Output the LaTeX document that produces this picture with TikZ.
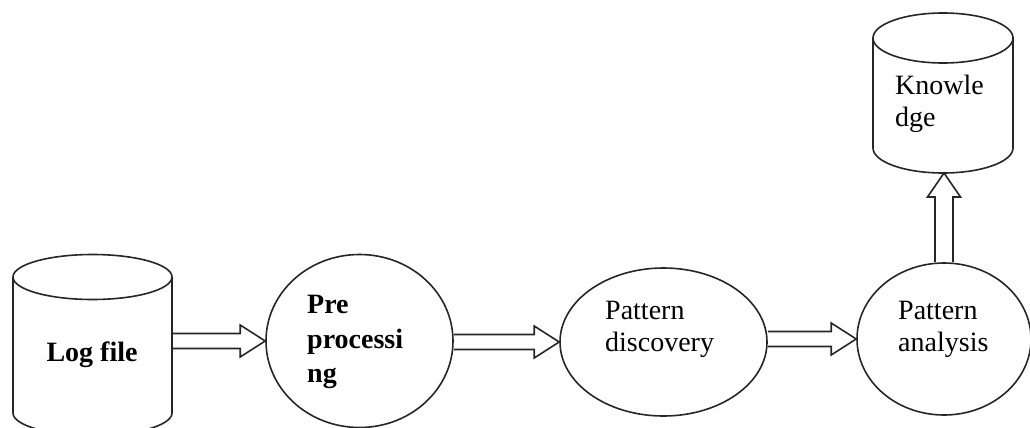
\documentclass[tikz,border=0pt]{standalone}
\usepackage{fontspec}
\setmainfont{Liberation Serif}
\usetikzlibrary{shapes.geometric,calc}
\tikzset{
  ln/.style={draw=black!85, line width=1.6pt},
  bub/.style={ln, ellipse, inner sep=0pt},
  lbl/.style={inner sep=0pt, align=left, anchor=west, font=\fontsize{28}{32}\selectfont},
  blk/.style={ln, line join=miter},
}
\newcommand\harr[2]{\draw[blk] let \p1=(#1), \p2=(#2) in
  (\x1,\y2+7.5pt) -- (\x2-25pt,\y2+7.5pt) -- (\x2-25pt,\y2+16pt) -- (\x2,\y2)
  -- (\x2-25pt,\y2-16pt) -- (\x2-25pt,\y2-7.5pt) -- (\x1,\y2-7.5pt);}
\newcommand\varr[2]{\draw[blk] let \p1=(#1), \p2=(#2) in
  (\x2-9pt,\y1) -- (\x2-9pt,\y2-24pt) -- (\x2-16.5pt,\y2-24pt) -- (\x2,\y2)
  -- (\x2+16.5pt,\y2-24pt) -- (\x2+9pt,\y2-24pt) -- (\x2+9pt,\y1);}
\begin{document}
\begin{tikzpicture}[x=1pt,y=-1pt]
\clip (0,0) rectangle (1030,428);
% Log file cylinder
\draw[ln] (13,277) -- (13,413) arc[start angle=180,end angle=360,x radius=79.5pt,y radius=22.5pt] -- (172,277);
\draw[ln] (92.5,277) ellipse [x radius=79.5pt, y radius=22.5pt];
\coordinate (logfile) at (172,344);
\node[lbl, anchor=center, font=\bfseries\fontsize{28}{32}\selectfont] (logtxt) at (92,355) {Log file};
% Pre processing
\node[bub, minimum width=187pt, minimum height=173pt] (pre) at (359.5,341) {};
\node[lbl, font=\bfseries\fontsize{28}{34.5}\selectfont] (pretxt) at (307,342) {Pre\\processi\\ng};
% Pattern discovery
\node[bub, minimum width=207pt, minimum height=148pt] (disc) at (663.5,342) {};
\node[lbl] (disctxt) at (605,329) {Pattern\\discovery};
% Pattern analysis
\node[bub, minimum width=174pt, minimum height=152pt] (ana) at (944,339) {};
\node[lbl] (anatxt) at (898,329) {Pattern\\analysis};
% Knowledge cylinder
\draw[ln] (873,38) -- (873,148) arc[start angle=180,end angle=360,x radius=70pt,y radius=25pt] -- (1013,38);
\draw[ln] (943,38) ellipse [x radius=70pt, y radius=25pt];
\coordinate (know) at (944,173);
\node[lbl] (knowtxt) at (895,104) {Knowle\\dge};
% block arrows
\harr{logfile}{pre.west}
\harr{pre.east}{disc.west}
\harr{disc.east}{ana.west}
\varr{ana.north}{know}
\end{tikzpicture}
\end{document}
